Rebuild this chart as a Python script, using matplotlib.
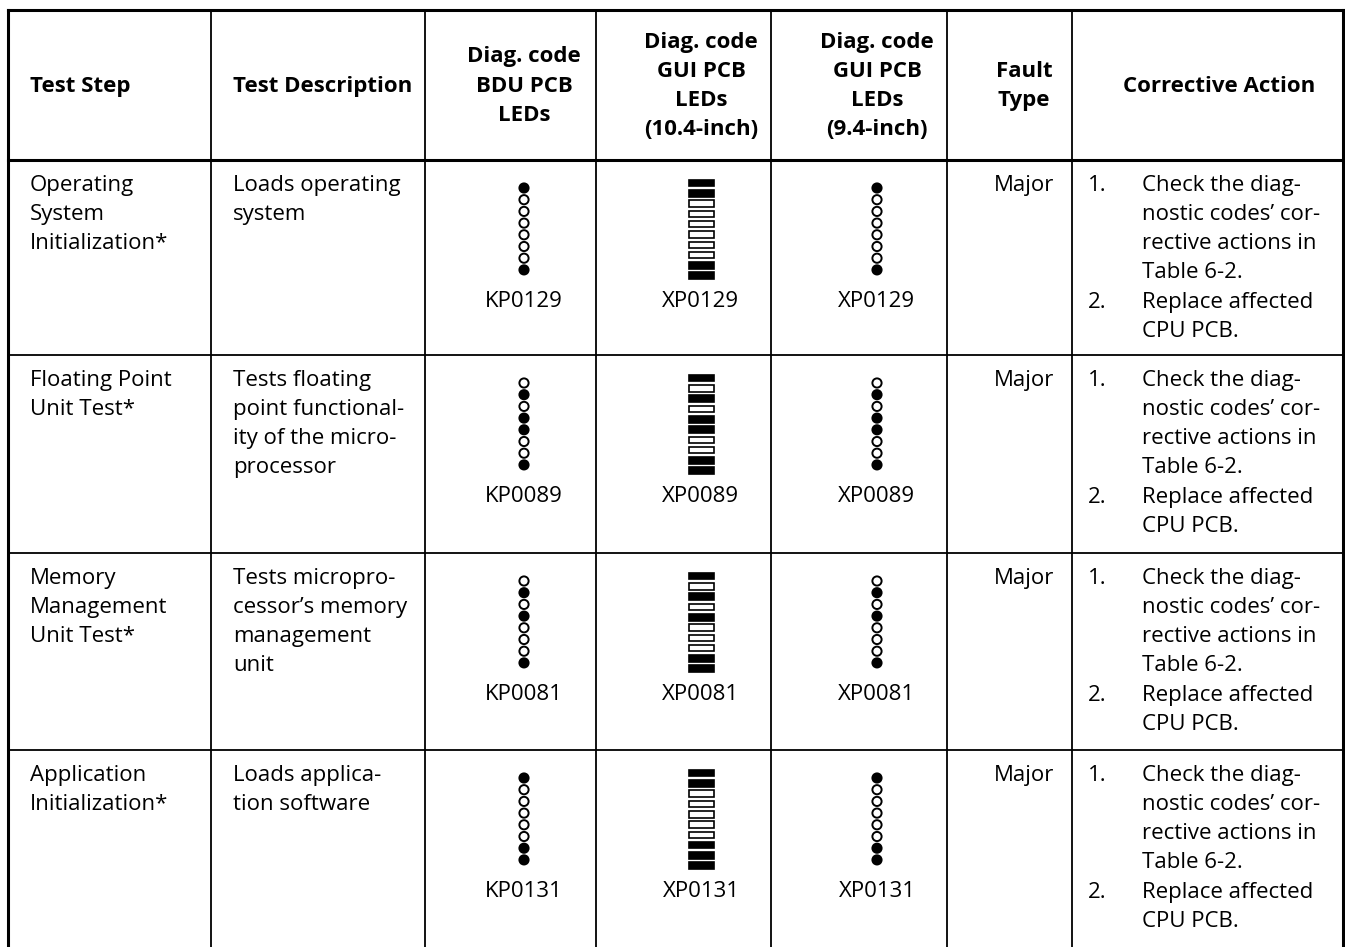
import matplotlib
matplotlib.use("Agg")
import matplotlib.pyplot as plt
from matplotlib.patches import Circle, Rectangle

# table content
headers = ["Test Step", "Test Description", "Diag. code\nBDU PCB\nLEDs",
           "Diag. code\nGUI PCB\nLEDs\n(10.4-inch)", "Diag. code\nGUI PCB\nLEDs\n(9.4-inch)",
           "Fault\nType", "Corrective Action"]
steps = ["Operating\nSystem\nInitialization*", "Floating Point\nUnit Test*",
         "Memory\nManagement\nUnit Test*", "Application\nInitialization*"]
descs = ["Loads operating\nsystem",
         "Tests floating\npoint functional-\nity of the micro-\nprocessor",
         "Tests micropro-\ncessor\u2019s memory\nmanagement\nunit",
         "Loads applica-\ntion software"]
bdu_codes = ["KP0129", "KP0089", "KP0081", "KP0131"]
gui104_codes = ["XP0129", "XP0089", "XP0081", "XP0131"]
gui94_codes = ["XP0129", "XP0089", "XP0081", "XP0131"]
# LED states top to bottom, 1 = lit
bdu_leds = ["10000001", "01011001", "01010001", "10000011"]
gui104_leds = ["1100000011", "1010110011", "1010100011", "1100000111"]
gui94_leds = ["10000001", "01011001", "01010001", "10000011"]
faults = ["Major", "Major", "Major", "Major"]
action_1 = ["Check the diag-", "nostic codes\u2019 cor-", "rective actions in", "Table 6-2."]
action_2 = ["Replace affected", "CPU PCB."]

W, H = 1345, 947
col_x = [8, 211, 425, 596, 771, 947, 1072, 1343]
row_y = [10, 160, 355, 553, 750, 947]
# horizontal centres used for centred columns
centres = [None, None, 524, 701, 877, 1024, 1219]
LH = 29.3
FONT = "Open Sans"
FS = 16

fig = plt.figure(figsize=(W / 100, H / 100), dpi=100)
ax = fig.add_axes([0, 0, 1, 1])
ax.set_xlim(0, W)
ax.set_ylim(H, 0)
ax.axis("off")

# grid lines
for x in col_x:
    lw = 2.2 if x in (col_x[0], col_x[-1]) else 1.3
    ax.plot([x, x], [row_y[0], H + 5], color="black", lw=lw)
for y in row_y[:-1]:
    lw = 2.2 if y in (row_y[0], row_y[1]) else 1.3
    ax.plot([col_x[0], col_x[-1]], [y, y], color="black", lw=lw)

def lines(x, y, txt, ha="left", bold=False):
    for i, s in enumerate(txt.split("\n")):
        ax.text(x, y + i * LH, s, ha=ha, va="center", fontsize=FS,
                family=FONT, fontweight="bold" if bold else "normal")

# header
head_mid = (row_y[0] + row_y[1]) / 2 + 1
for j, h in enumerate(headers):
    n = len(h.split("\n"))
    y0 = head_mid - (n - 1) * LH / 2
    if j < 2:
        lines(col_x[j] + 22, y0, h, bold=True)
    else:
        lines(centres[j], y0, h, ha="center", bold=True)

def circles(cx, top, pattern):
    for k, b in enumerate(pattern):
        ax.add_patch(Circle((cx, top + k * 11.7), 4.6, facecolor="black" if b == "1" else "white",
                            edgecolor="black", lw=1.4))

def bars(cx, top, pattern):
    for k, b in enumerate(pattern):
        ax.add_patch(Rectangle((cx - 12.5, top + k * 10.3 - 3.3), 25, 6.6,
                               facecolor="black" if b == "1" else "white",
                               edgecolor="black", lw=1.2))

for i in range(4):
    top = row_y[i + 1]
    ty = top + 25
    lines(col_x[0] + 22, ty, steps[i])
    lines(col_x[1] + 22, ty, descs[i])
    circles(centres[2], top + 28, bdu_leds[i])
    bars(centres[3], top + 23, gui104_leds[i])
    circles(centres[4], top + 28, gui94_leds[i])
    ax.text(centres[2], top + 141, bdu_codes[i], ha="center", va="center", fontsize=FS, family=FONT)
    ax.text(centres[3], top + 141, gui104_codes[i], ha="center", va="center", fontsize=FS, family=FONT)
    ax.text(centres[4], top + 141, gui94_codes[i], ha="center", va="center", fontsize=FS, family=FONT)
    ax.text(centres[5], ty, faults[i], ha="center", va="center", fontsize=FS, family=FONT)
    ax.text(1088, ty, "1.", ha="left", va="center", fontsize=FS, family=FONT)
    lines(1142, ty, "\n".join(action_1))
    ax.text(1088, ty + 4 * LH, "2.", ha="left", va="center", fontsize=FS, family=FONT)
    lines(1142, ty + 4 * LH, "\n".join(action_2))

fig.savefig("out.png", dpi=100)
